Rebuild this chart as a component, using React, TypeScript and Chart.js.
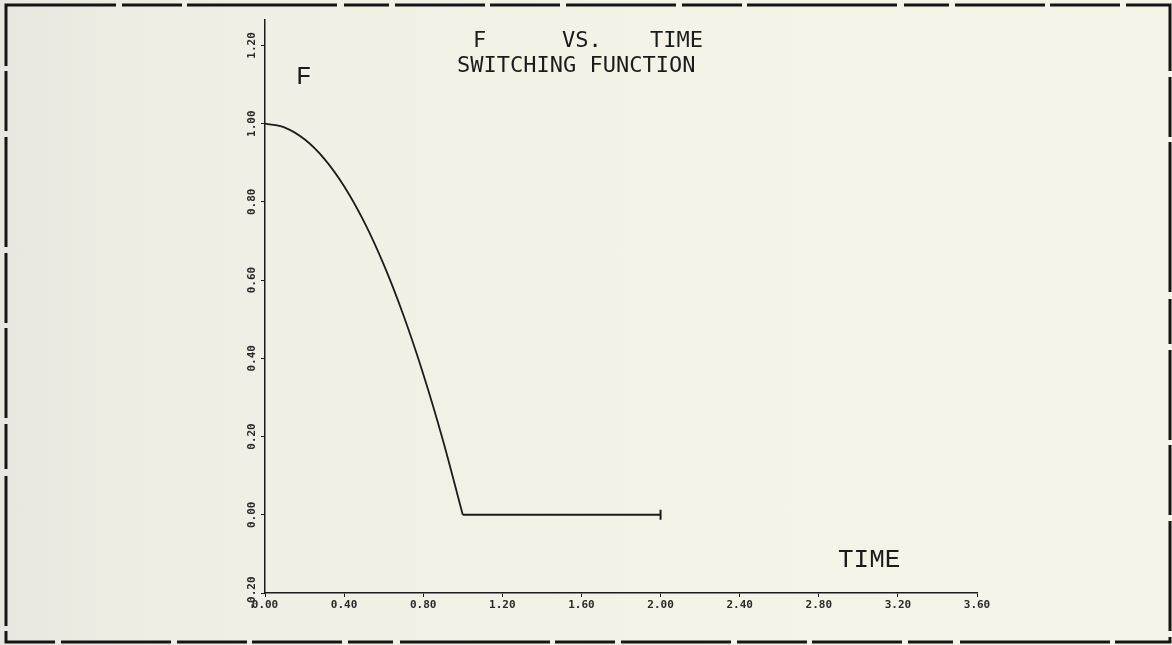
import React, { useEffect, useRef } from "react";
import { Chart, registerables } from "chart.js";

Chart.register(...registerables);

// ---- data ----
// descending part of the switching function
const curveTime = [0, 0.1, 0.2, 0.3, 0.4, 0.5, 0.6, 0.7, 0.8, 0.9, 1.0];
const curveF = [1.0, 0.99, 0.96, 0.91, 0.84, 0.75, 0.64, 0.51, 0.36, 0.19, 0.0];
// flat part after switching
const flatTime = [1.0, 2.0];
const flatF = [0.0, 0.0];
const xTickValues = [0, 0.4, 0.8, 1.2, 1.6, 2.0, 2.4, 2.8, 3.2, 3.6];
const yTickValues = [-0.2, 0, 0.2, 0.4, 0.6, 0.8, 1.0, 1.2];
const titleWords = ["F", "VS.", "TIME"];
const subtitleText = "SWITCHING FUNCTION";
const yAxisLabel = "F";
const xAxisLabel = "TIME";

const INK = "#1b1b1b";

const decorPlugin = {
  id: "decor",
  afterDraw(chart: any) {
    const ctx = chart.ctx as CanvasRenderingContext2D;
    ctx.save();
    // dashed frame
    ctx.strokeStyle = "#151515";
    ctx.lineWidth = 3;
    ctx.setLineDash([110, 6, 60, 5, 150, 7, 45, 6, 90, 5, 70, 6]);
    ctx.strokeRect(6, 5, 1164, 637);
    ctx.setLineDash([]);

    ctx.fillStyle = INK;
    ctx.textBaseline = "alphabetic";
    ctx.textAlign = "left";
    ctx.font = '22px "DejaVu Sans Mono"';
    ctx.fillText(titleWords[0], 473, 47);
    ctx.fillText(titleWords[1], 562, 47);
    ctx.fillText(titleWords[2], 650, 47);
    ctx.fillText(subtitleText, 457, 72);

    ctx.font = '26px "Liberation Mono"';
    ctx.fillText(yAxisLabel, 296, 84);
    ctx.fillText(xAxisLabel, 838, 567);
    ctx.restore();
  },
};

export default function App() {
  const canvasRef = useRef<HTMLCanvasElement | null>(null);

  useEffect(() => {
    const canvas = canvasRef.current;
    if (!canvas) return;
    const tickFont = { family: '"DejaVu Sans Mono"', size: 11, weight: "bold" as const };
    const chart = new Chart(canvas, {
      type: "line",
      data: {
        datasets: [
          {
            data: curveTime.map((t, i) => ({ x: t, y: curveF[i] })),
            borderColor: INK,
            borderWidth: 1.8,
            cubicInterpolationMode: "monotone",
            pointRadius: 0,
            fill: false,
          },
          {
            data: flatTime.map((t, i) => ({ x: t, y: flatF[i] })),
            borderColor: INK,
            borderWidth: 1.8,
            pointRadius: flatTime.map((_, i) => (i === flatTime.length - 1 ? 5 : 0)),
            pointStyle: "line",
            rotation: 90,
            pointBorderWidth: 2,
            pointBorderColor: INK,
            fill: false,
          },
        ],
      },
      options: {
        responsive: false,
        animation: false,
        layout: { padding: { left: 0, right: 195, top: 20, bottom: 0 } },
        plugins: {
          legend: { display: false },
          tooltip: { enabled: false },
        },
        scales: {
          x: {
            type: "linear",
            min: 0,
            max: 3.6,
            afterBuildTicks: (s: any) => {
              s.ticks = xTickValues.map((v) => ({ value: v }));
            },
            afterFit: (s: any) => {
              s.height = 52;
            },
            ticks: {
              autoSkip: false,
              maxRotation: 0,
              minRotation: 0,
              padding: 2,
              color: "#2a2a2a",
              font: tickFont,
              callback: (v: any) => Number(v).toFixed(2),
            },
            grid: { drawOnChartArea: false, drawTicks: true, tickLength: 4, color: INK },
            border: { color: INK, width: 1.5 },
          },
          y: {
            type: "linear",
            min: -0.2,
            max: 1.265,
            afterBuildTicks: (s: any) => {
              s.ticks = yTickValues.map((v) => ({ value: v }));
            },
            afterFit: (s: any) => {
              s.width = 265;
            },
            ticks: {
              autoSkip: false,
              minRotation: 90,
              maxRotation: 90,
              crossAlign: "center",
              padding: -8,
              color: "#2a2a2a",
              font: tickFont,
              callback: (v: any) => Number(v).toFixed(2),
            },
            grid: { drawOnChartArea: false, drawTicks: true, tickLength: 4, color: INK },
            border: { color: INK, width: 1.5 },
          },
        },
      },
      plugins: [decorPlugin],
    } as any);
    return () => chart.destroy();
  }, []);

  return (
    <div
      style={{
        position: "fixed",
        left: 0,
        top: 0,
        width: 1172,
        height: 645,
        background: "linear-gradient(90deg, #e9e8e0 0%, #f1efe5 20%, #f5f3e7 60%, #f6f4e8 100%)",
      }}
    >
      <canvas ref={canvasRef} width={1172} height={645} />
    </div>
  );
}
